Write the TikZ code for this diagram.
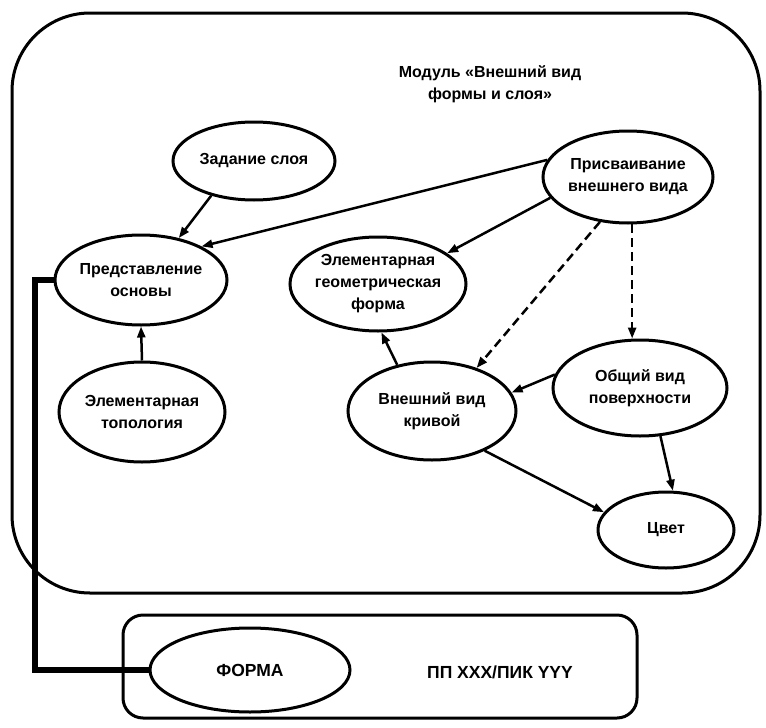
\documentclass[tikz,border=0pt]{standalone}
\usepackage{fontspec}
\setmainfont{Liberation Sans}
\usetikzlibrary{shapes.geometric,arrows.meta}
\begin{document}
\begin{tikzpicture}[x=1pt,y=-1pt,
  ell/.style={draw,ellipse,line width=3pt,inner sep=0pt},
  txt/.style={align=center,font=\fontsize{16}{22}\selectfont\bfseries,inner sep=0pt},
  big/.style={font=\fontsize{17.5}{22}\selectfont\bfseries},
  arr/.style={-{Triangle[length=11pt,width=8pt]},line width=2.5pt},
  dsh/.style={dash pattern=on 9pt off 5pt},
  frame/.style={draw,line width=3pt,inner sep=0pt},
  heavy/.style={line width=5.5pt}]
\useasboundingbox (0,0) rectangle (766,728);
% frames
\node[frame,rounded corners=78pt,minimum width=748pt,minimum height=580pt] (mod) at (386,303) {};
\node[frame,rounded corners=20pt,minimum width=514pt,minimum height=103pt] (box) at (380,666.5) {};
\node[txt] (title) at (490,84) {Модуль «Внешний вид\\формы и слоя»};
% ellipses
\node[ell,minimum width=162pt,minimum height=78pt] (zad) at (254,161) {};
\node[ell,minimum width=172pt,minimum height=90pt] (pred) at (141,280) {};
\node[ell,minimum width=166pt,minimum height=100pt] (topo) at (142,412) {};
\node[ell,minimum width=170pt,minimum height=92pt] (pris) at (628,177) {};
\node[ell,minimum width=176pt,minimum height=94pt] (geom) at (378,284) {};
\node[ell,minimum width=168pt,minimum height=98pt] (kriv) at (432,411) {};
\node[ell,minimum width=174pt,minimum height=96pt] (pov) at (640,388) {};
\node[ell,minimum width=136pt,minimum height=76pt] (cvet) at (666,530) {};
\node[ell,minimum width=200pt,minimum height=84pt] (forma) at (250,670) {};
% texts
\node[txt] (zadT) at (zad) {Задание слоя};
\node[txt] (predT) at (pred) {Представление\\основы};
\node[txt] (topoT) at (topo) {Элементарная\\топология};
\node[txt] (prisT) at (pris) {Присваивание\\внешнего вида};
\node[txt] (geomT) at (geom) {Элементарная\\геометрическая\\форма};
\node[txt] (krivT) at (kriv) {Внешний вид\\кривой};
\node[txt] (povT) at (pov) {Общий вид\\поверхности};
\node[txt] (cvetT) at (cvet) {Цвет};
\node[txt,big] (formaT) at (forma) {ФОРМА};
\node[txt,big] (ppT) at (500,672) {ПП XXX/ПИК YYY};
% connectors
\draw[arr] (zad.219) -- (pred.48);
\draw[arr] (pris.168) -- (pred.29);
\draw[arr] (pris.195) -- (geom.24);
\draw[arr,dsh] (pris.238) -- (kriv.44);
\draw[arr,dsh] (pris.275) -- (pris.275 |- pov.north);
\draw[arr] (pov.171) -- (kriv.13);
\draw[arr] (kriv.127) -- (geom.274);
\draw[arr] (topo.north) -- (pred.south);
\draw[arr] (kriv.-37) -- (cvet.164);
\draw[arr] (pov.293) -- (cvet.80);
\coordinate (corner) at (35,670);
\draw[heavy] (pred.west) -| (corner) -- (forma.west);
\end{tikzpicture}
\end{document}
